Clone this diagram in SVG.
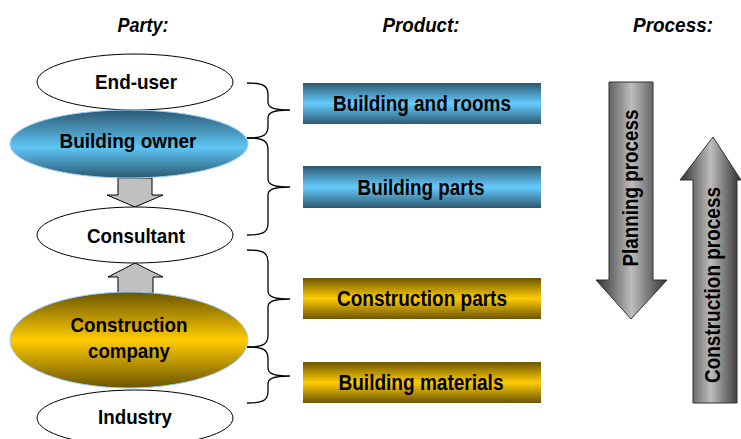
<svg xmlns="http://www.w3.org/2000/svg" width="741" height="439" viewBox="0 0 741 439">
<defs>
<linearGradient id="gBlue" x1="0" y1="0" x2="0" y2="1">
<stop offset="0" stop-color="#2c5870"/><stop offset="0.5" stop-color="#66ccff"/><stop offset="1" stop-color="#2c5870"/>
</linearGradient>
<linearGradient id="gBlueE" x1="0" y1="0" x2="0" y2="1">
<stop offset="0" stop-color="#2c5870"/><stop offset="0.55" stop-color="#5ec6f5"/><stop offset="1" stop-color="#2c5870"/>
</linearGradient>
<linearGradient id="gGold" x1="0" y1="0" x2="0" y2="1">
<stop offset="0" stop-color="#6b5500"/><stop offset="0.5" stop-color="#ffcc00"/><stop offset="1" stop-color="#6b5500"/>
</linearGradient>
<linearGradient id="gGray" x1="0" y1="0" x2="1" y2="0">
<stop offset="0" stop-color="#2e2e2e"/><stop offset="0.5" stop-color="#bdbdbd"/><stop offset="1" stop-color="#2e2e2e"/>
</linearGradient>
</defs>
<style>
text{font-family:"Liberation Sans",Arial,sans-serif;font-weight:bold;fill:#000;text-anchor:middle;}
.h{font-style:italic;font-size:20px;}
.n{font-size:21px;}
.b{font-size:22px;}
.p{font-size:22px;}
.plain{fill:#fff;stroke:#000;stroke-width:1;}
.ga{fill:#c0c0c0;stroke:#000;stroke-width:1;}
.br{fill:none;stroke:#000;stroke-width:1.3;}
.pa{fill:url(#gGray);stroke:#333;stroke-width:1;}
</style>
<rect width="741" height="439" fill="#fff"/>

<g id="headers">
<text class="h" x="143" y="32" textLength="51" lengthAdjust="spacingAndGlyphs">Party:</text>
<text class="h" x="421" y="32" textLength="77" lengthAdjust="spacingAndGlyphs">Product:</text>
<text class="h" x="673" y="32" textLength="80" lengthAdjust="spacingAndGlyphs">Process:</text>
</g>

<g id="connectors">
<polygon class="ga" points="118,178 152,178 152,195 163,195 135,207 107,195 118,195"/>
<polygon class="ga" points="135,263 163,277 153,277 153,293 118,293 118,277 108,277"/>
<path class="br" d="M247,83 C264,83 268,86 268,95 L268,102 C268,107 272,110 290,110 C272,110 268,113 268,118 L268,126 C268,135 264,138 247,138"/>
<path class="br" d="M247,138 C264,138 268,141 268,150 L268,179 C268,184 272,187 290,187 C272,187 268,190 268,195 L268,223 C268,232 264,235 247,235"/>
<path class="br" d="M247,250 C264,250 268,253 268,262 L268,291 C268,296 272,299 290,299 C272,299 268,302 268,307 L268,335 C268,344 264,347 247,347"/>
<path class="br" d="M247,347 C264,347 268,350 268,359 L268,368 C268,373 272,376 290,376 C272,376 268,379 268,384 L268,391 C268,400 264,403 247,403"/>
</g>

<g id="end-user">
<ellipse class="plain" cx="135" cy="82" rx="98" ry="28"/>
<text class="n" x="136" y="89" textLength="82" lengthAdjust="spacingAndGlyphs">End-user</text>
</g>
<g id="building-owner">
<ellipse cx="129" cy="144" rx="119" ry="34" fill="url(#gBlueE)" stroke="#99ccff" stroke-width="1"/>
<text class="n" x="128" y="148" textLength="137" lengthAdjust="spacingAndGlyphs">Building owner</text>
</g>
<g id="consultant">
<ellipse class="plain" cx="135" cy="235" rx="98" ry="28"/>
<text class="n" x="136" y="243" textLength="98" lengthAdjust="spacingAndGlyphs">Consultant</text>
</g>
<g id="construction-company">
<ellipse cx="129" cy="340" rx="119" ry="48" fill="url(#gGold)" stroke="#99ccff" stroke-width="1"/>
<text class="n" x="129" y="332" textLength="117" lengthAdjust="spacingAndGlyphs">Construction</text>
<text class="n" x="129" y="358" textLength="82" lengthAdjust="spacingAndGlyphs">company</text>
</g>
<g id="industry">
<ellipse class="plain" cx="135" cy="418" rx="98" ry="28"/>
<text class="n" x="135" y="424" textLength="74" lengthAdjust="spacingAndGlyphs">Industry</text>
</g>

<g id="building-and-rooms">
<rect x="303" y="83" width="238" height="41" fill="url(#gBlue)"/>
<text class="b" x="422" y="111" textLength="178" lengthAdjust="spacingAndGlyphs">Building and rooms</text>
</g>
<g id="building-parts">
<rect x="303" y="166" width="238" height="42" fill="url(#gBlue)"/>
<text class="b" x="421" y="195" textLength="127" lengthAdjust="spacingAndGlyphs">Building parts</text>
</g>
<g id="construction-parts">
<rect x="303" y="278" width="238" height="41" fill="url(#gGold)"/>
<text class="b" x="422" y="306" textLength="170" lengthAdjust="spacingAndGlyphs">Construction parts</text>
</g>
<g id="building-materials">
<rect x="303" y="362" width="238" height="41" fill="url(#gGold)"/>
<text class="b" x="421" y="390" textLength="165" lengthAdjust="spacingAndGlyphs">Building materials</text>
</g>

<g id="planning-process">
<polygon class="pa" points="609,82 653,82 653,280 667,280 631,319 596,280 609,280"/>
<text class="p" transform="translate(638,188) rotate(-90)" x="0" y="0" textLength="157" lengthAdjust="spacingAndGlyphs">Planning process</text>
</g>
<g id="construction-process">
<polygon class="pa" points="713,137 741,180 737,180 737,403 693,403 693,180 680,180"/>
<text class="p" transform="translate(720,285) rotate(-90)" x="0" y="0" textLength="196" lengthAdjust="spacingAndGlyphs">Construction process</text>
</g>
</svg>
